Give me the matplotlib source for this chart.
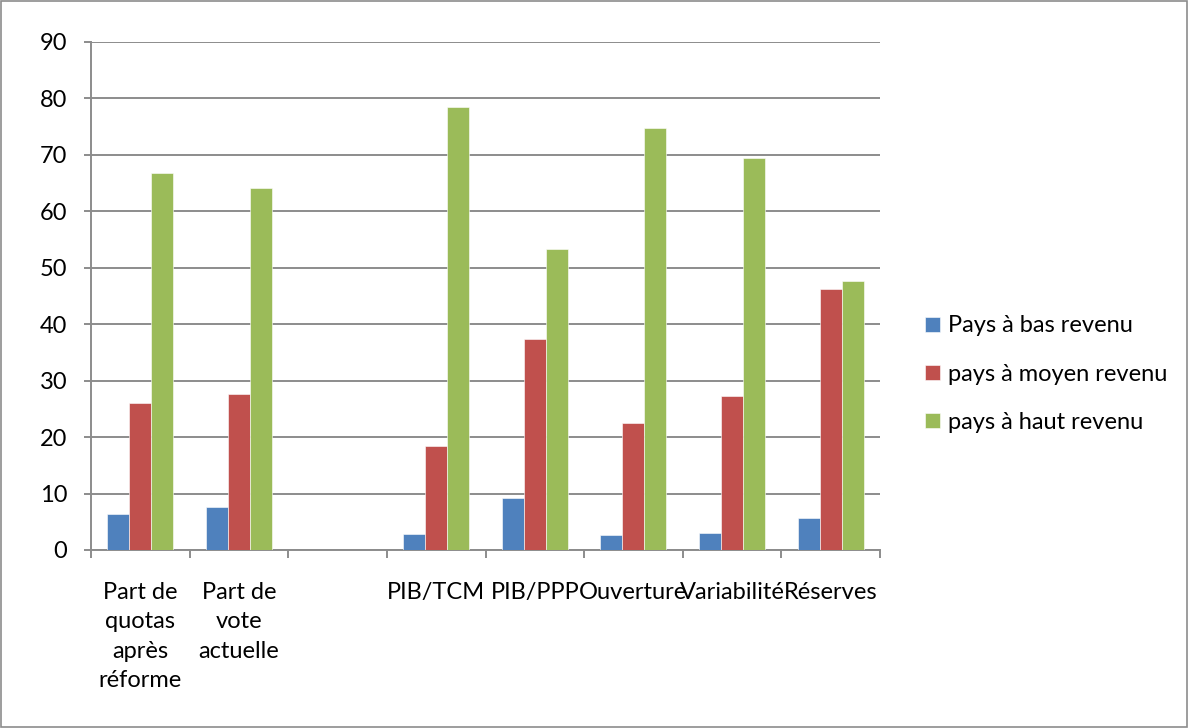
import numpy as np
import matplotlib
matplotlib.use("Agg")
import matplotlib.pyplot as plt
from matplotlib.patches import Rectangle

plt.rcParams['font.family'] = ['Lato', 'DejaVu Sans']

# categories (third one has no data)
categories = ["Part de\nquotas\naprès\nréforme", "Part de\nvote\nactuelle", "",
              "PIB/TCM", "PIB/PPP", "Ouverture", "Variabilité", "Réserves"]
series_names = ["Pays à bas revenu", "pays à moyen revenu", "pays à haut revenu"]
bas = [6.4, 7.6, np.nan, 2.8, 9.2, 2.6, 3.1, 5.7]
moyen = [26.0, 27.7, np.nan, 18.4, 37.3, 22.5, 27.3, 46.3]
haut = [66.8, 64.2, np.nan, 78.5, 53.3, 74.7, 69.4, 47.6]
colors = ["#4F81BD", "#C0504D", "#9BBB59"]

FS = 17

fig = plt.figure(figsize=(11.89, 7.28), dpi=100)
ax = fig.add_axes([91 / 1189, 1 - 550 / 728, (880 - 91) / 1189, (550 - 42) / 728])

x = np.arange(len(categories))
w = 22 / 98.75
for i, (vals, c, name) in enumerate(zip([bas, moyen, haut], colors, series_names)):
    ax.bar(x + (i - 1) * w, vals, width=w, color=c, label=name, zorder=3,
           edgecolor="white", linewidth=0.4)

ax.set_xlim(-0.5, len(categories) - 0.5)
ax.set_ylim(0, 90)
ax.set_yticks(range(0, 91, 10))
ax.yaxis.grid(True, color="#8c8c8c", linewidth=1.4, zorder=0)

ax.set_xticks(x)
ax.set_xticklabels(categories, fontsize=FS, linespacing=1.5, va="top")
ax.set_xticks(np.arange(-0.5, len(categories), 1), minor=True)
ax.tick_params(axis="x", which="major", length=0, pad=23)
ax.tick_params(axis="x", which="minor", length=6, width=1.4, color="#8c8c8c")
ax.tick_params(axis="y", length=5, width=1.4, color="#8c8c8c", labelsize=FS, pad=12)

for s in ["top", "right"]:
    ax.spines[s].set_visible(False)
for s in ["left", "bottom"]:
    ax.spines[s].set_color("#8c8c8c")
    ax.spines[s].set_linewidth(1.4)

fig.legend(loc="upper left", bbox_to_anchor=(916 / 1189, 1 - 306 / 728),
           frameon=False, fontsize=FS, handlelength=0.6, handleheight=0.6,
           handletextpad=0.35, labelspacing=1.16, borderaxespad=0)

# chart border
fig.patches.append(Rectangle((0.001, 0.002), 0.997, 0.996, transform=fig.transFigure,
                             fill=False, edgecolor="#8c8c8c", linewidth=1.2))

fig.savefig("out.png", dpi=100)
